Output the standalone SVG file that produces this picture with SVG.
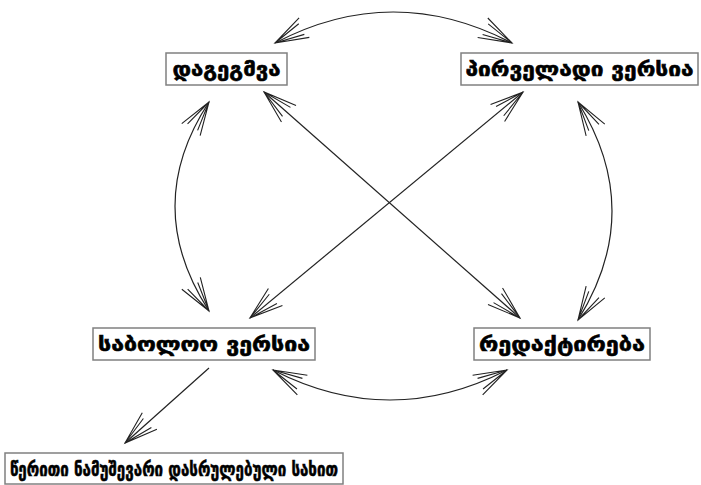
<svg xmlns="http://www.w3.org/2000/svg" width="701" height="485" viewBox="0 0 701 485">
<style>
.box{fill:#fff;stroke:#808080;stroke-width:1.5}
.lbl{font-family:"DejaVu Sans","Noto Sans",sans-serif;font-weight:bold;font-size:20px;fill:#000;stroke:#000;stroke-width:0.6;text-anchor:middle;dominant-baseline:central}
.c{fill:none;stroke:#222;stroke-width:1.2}
</style>
<defs>
<marker id="ah" markerUnits="userSpaceOnUse" markerWidth="40" markerHeight="30" refX="0" refY="0" viewBox="-36 -15 40 30" orient="auto-start-reverse" overflow="visible">
<path d="M-33,-11 L0,0 L-33,11 M-30,-6 L0,0 L-30,6" fill="none" stroke="#222" stroke-width="1.1"/>
</marker>
</defs>
<rect width="701" height="485" fill="#fff"/>
<g id="connectors">
<path class="c" d="M275,43 Q393,-19 512,43" marker-start="url(#ah)" marker-end="url(#ah)"/>
<path class="c" d="M209,102 Q141,206 209,311" marker-start="url(#ah)" marker-end="url(#ah)"/>
<path class="c" d="M578,102 Q646,211 578,320" marker-start="url(#ah)" marker-end="url(#ah)"/>
<path class="c" d="M273,370 Q390,430 507,370" marker-start="url(#ah)" marker-end="url(#ah)"/>
<path class="c" d="M264,92 L520,318" marker-start="url(#ah)" marker-end="url(#ah)"/>
<path class="c" d="M523,92 L250,318" marker-start="url(#ah)" marker-end="url(#ah)"/>
<path class="c" d="M209,368 L125,443" marker-end="url(#ah)"/>
</g>
<g id="n1"><rect class="box" x="166" y="53" width="121" height="32"/><text class="lbl" x="226.5" y="69" textLength="108" lengthAdjust="spacingAndGlyphs">დაგეგმვა</text></g>
<g id="n2"><rect class="box" x="461" y="53" width="237" height="32"/><text class="lbl" x="579.5" y="69" textLength="228" lengthAdjust="spacingAndGlyphs">პირველადი ვერსია</text></g>
<g id="n3"><rect class="box" x="93" y="328" width="222" height="32"/><text class="lbl" x="204" y="344" textLength="212" lengthAdjust="spacingAndGlyphs">საბოლოო ვერსია</text></g>
<g id="n4"><rect class="box" x="474" y="328" width="176" height="32"/><text class="lbl" x="562" y="344" textLength="166" lengthAdjust="spacingAndGlyphs">რედაქტირება</text></g>
<g id="n5"><rect class="box" x="5" y="453" width="338" height="31"/><text class="lbl" x="174" y="468.5" textLength="328" lengthAdjust="spacingAndGlyphs">წერითი ნამუშევარი დასრულებული სახით</text></g>
</svg>
